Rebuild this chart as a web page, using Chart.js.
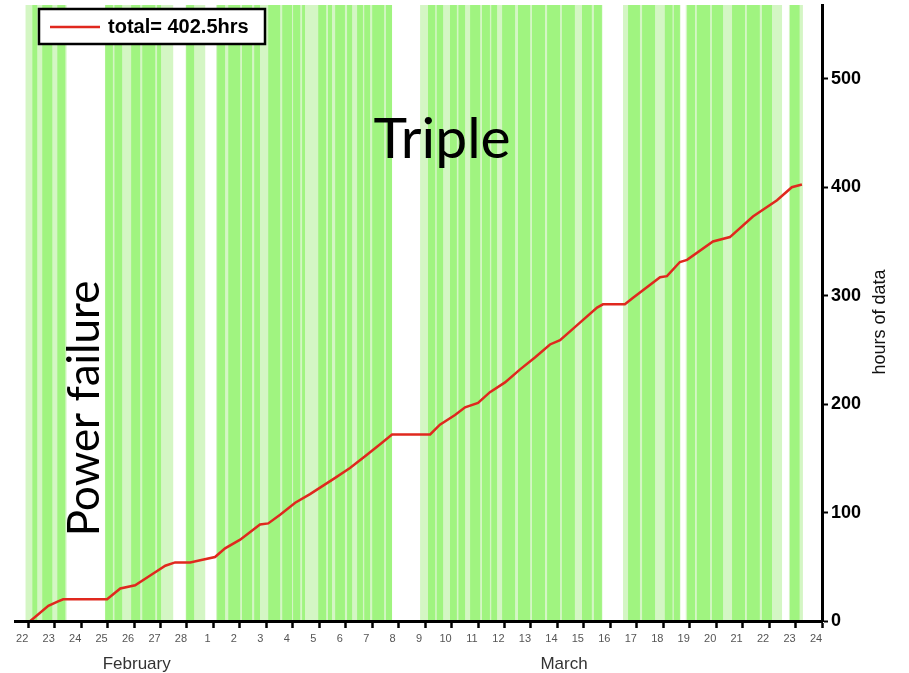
<!DOCTYPE html>
<html lang="en">
<head>
    <meta charset="UTF-8">
    <title>Hours of data</title>
    <script src="https://cdn.jsdelivr.net/npm/chart.js"></script>
    <style>
        body { margin: 0; background: #fff; }
        #wrap { width: 909px; height: 673px; }
    </style>
</head>
<body>
    <div id="wrap"><canvas id="hoursChart" width="909" height="673"></canvas></div>

    <script>
        // x values are days counted from the 22 February tick
        const dayLabels = ['22', '23', '24', '25', '26', '27', '28',
            '1', '2', '3', '4', '5', '6', '7', '8', '9', '10', '11', '12', '13', '14', '15',
            '16', '17', '18', '19', '20', '21', '22', '23', '24'];
        const monthLabels = ['February', 'March'];
        const monthCenters = [4.1, 20.25];
        const hourTicks = [0, 100, 200, 300, 400, 500];

        // cumulative hours of data
        const totalDays = [0.08, 0.76, 1.13, 1.32, 2.98, 3.48, 4.04, 4.61, 5.18, 5.55, 6.12, 6.50, 7.06,
            7.44, 8.01, 8.39, 8.76, 9.07, 9.52, 10.09, 10.65, 11.03, 11.60, 12.16, 12.73, 13.30, 13.75,
            15.19, 15.56, 16.13, 16.51, 17.00, 17.45, 18.02, 18.59, 19.15, 19.72, 20.10, 20.66, 21.50,
            21.72, 22.55, 22.86, 23.88, 24.14, 24.63, 24.90, 25.88, 26.52, 27.39, 28.30, 28.86, 29.24];
        const totalHours = [0, 14, 18, 20, 20, 30, 33, 42, 51, 54, 54, 56, 59,
            67, 75, 82, 89, 90, 98, 109, 117, 123, 132, 141, 152, 163, 172,
            172, 181, 190, 197, 201, 211, 220, 232, 243, 255, 259, 271, 289,
            292, 292, 298, 317, 318, 331, 333, 350, 354, 373, 388, 400, 402.5];

        // recording periods (start day, end day)
        const recordSpans = [[0.15, 0.34], [0.53, 0.91], [1.10, 1.40],
            [2.91, 3.20], [3.26, 3.55], [3.89, 4.23], [4.31, 4.80], [4.87, 5.02],
            [5.97, 6.27], [7.14, 7.44], [7.56, 8.01], [8.08, 8.46], [8.54, 8.76],
            [9.07, 9.52], [9.60, 9.97], [10.01, 10.28], [10.35, 10.46], [10.96, 11.26],
            [11.33, 11.48], [11.60, 11.97], [12.05, 12.24], [12.43, 12.65], [12.70, 12.92],
            [13.00, 13.45], [13.52, 13.75], [15.11, 15.38], [15.44, 15.68], [15.94, 16.20],
            [16.26, 16.51], [16.70, 17.08], [17.15, 17.45], [17.50, 17.72],
            [17.91, 18.40], [18.51, 18.97], [19.04, 19.53], [19.61, 20.10], [20.17, 20.66],
            [20.93, 21.30], [21.38, 21.68], [22.67, 23.12], [23.20, 23.69], [24.06, 24.35],
            [24.40, 24.63], [24.90, 25.20], [25.27, 25.77], [25.84, 26.26], [26.60, 27.09],
            [27.16, 27.65], [27.73, 28.11], [28.79, 29.16]];
        // short / partial periods (paler bands)
        const partialSpans = [[-0.11, 1.45], [2.90, 5.48], [5.95, 6.69], [7.10, 13.75],
            [14.81, 21.70], [22.48, 24.65], [24.85, 28.49], [28.75, 29.28]];

        const Y_MAX = 568;

        function spanPoints(spans) {
            const pts = [];
            spans.forEach(function(s) {
                pts.push({ x: s[0], y: Y_MAX + 50 });
                pts.push({ x: s[1], y: 0 });
            });
            return pts;
        }

        const annotations = {
            id: 'annotations',
            afterDatasetsDraw: function(chart) {
                const ctx = chart.ctx;
                const xs = chart.scales.x, ys = chart.scales.y;
                const area = chart.chartArea;
                ctx.save();

                // big labels
                ctx.fillStyle = '#000';
                ctx.textAlign = 'center';
                ctx.textBaseline = 'middle';
                ctx.font = '57px Lato';
                ctx.fillText('Triple', xs.getPixelForValue(15.64), ys.getPixelForValue(444));
                ctx.save();
                ctx.translate(xs.getPixelForValue(2.15), ys.getPixelForValue(196));
                ctx.rotate(-Math.PI / 2);
                ctx.font = '44px Lato';
                ctx.fillText('Power failure', 0, 0);
                ctx.restore();

                // legend box
                const lx = area.left + 24, ly = area.top + 4;
                ctx.fillStyle = '#fff';
                ctx.fillRect(lx, ly, 226, 35);
                ctx.lineWidth = 2.5;
                ctx.strokeStyle = '#000';
                ctx.strokeRect(lx, ly, 226, 35);
                ctx.strokeStyle = '#e0281e';
                ctx.lineWidth = 2.5;
                ctx.beginPath();
                ctx.moveTo(lx + 11, ly + 18);
                ctx.lineTo(lx + 61, ly + 18);
                ctx.stroke();
                ctx.fillStyle = '#000';
                ctx.textAlign = 'left';
                ctx.font = 'bold 20px "Liberation Sans", Arial';
                ctx.fillText('total= 402.5hrs', lx + 69, ly + 18);

                // month names under the day ticks
                ctx.textAlign = 'center';
                ctx.fillStyle = '#333';
                ctx.font = '17px "Liberation Sans", Arial';
                monthLabels.forEach(function(m, i) {
                    ctx.fillText(m, xs.getPixelForValue(monthCenters[i]), area.bottom + 43);
                });

                // right axis title, reading upward
                ctx.save();
                ctx.translate(880, (area.top + area.bottom) / 2 + 9);
                ctx.rotate(-Math.PI / 2);
                ctx.fillStyle = '#111';
                ctx.font = '18px "Liberation Sans", Arial';
                ctx.fillText('hours of data', 0, 0);
                ctx.restore();

                ctx.restore();
            }
        };

        new Chart(document.getElementById('hoursChart'), {
            type: 'line',
            data: {
                datasets: [{
                    label: 'total= 402.5hrs',
                    data: totalDays.map((d, i) => ({ x: d, y: totalHours[i] })),
                    borderColor: '#e0281e',
                    borderWidth: 2.5,
                    pointRadius: 0,
                    tension: 0,
                    fill: false
                }, {
                    label: 'recording',
                    data: spanPoints(recordSpans),
                    stepped: 'before',
                    borderWidth: 0,
                    borderColor: 'transparent',
                    backgroundColor: 'rgb(160, 244, 128)',
                    pointRadius: 0,
                    fill: 'origin'
                }, {
                    label: 'partial',
                    data: spanPoints(partialSpans),
                    stepped: 'before',
                    borderWidth: 0,
                    borderColor: 'transparent',
                    backgroundColor: 'rgb(212, 246, 196)',
                    pointRadius: 0,
                    fill: 'origin'
                }]
            },
            options: {
                responsive: false,
                animation: false,
                layout: { padding: { left: 15, top: 5, right: 0, bottom: 0 } },
                plugins: {
                    legend: { display: false },
                    tooltip: { enabled: false }
                },
                scales: {
                    x: {
                        type: 'linear',
                        position: 'bottom',
                        min: -0.5,
                        max: 30,
                        afterBuildTicks: function(axis) {
                            axis.ticks = dayLabels.map((l, i) => ({ value: i }));
                        },
                        afterFit: function(axis) {
                            axis.height = 52;
                            axis.paddingLeft = 0;
                            axis.paddingRight = 0;
                        },
                        border: { display: true, color: '#000', width: 3, z: 1 },
                        grid: {
                            drawOnChartArea: false,
                            drawTicks: true,
                            tickLength: 7,
                            tickWidth: 2.5,
                            color: '#000',
                            tickColor: '#000'
                        },
                        ticks: {
                            autoSkip: false,
                            maxRotation: 0,
                            padding: 4,
                            labelOffset: -6,
                            color: '#555',
                            font: { family: '"Liberation Sans", Arial', size: 11 },
                            callback: function(value) { return dayLabels[value]; }
                        }
                    },
                    y: {
                        type: 'linear',
                        position: 'right',
                        min: 0,
                        max: Y_MAX,
                        afterBuildTicks: function(axis) {
                            axis.ticks = hourTicks.map(v => ({ value: v }));
                        },
                        afterFit: function(axis) {
                            axis.width = 87;
                            axis.paddingTop = 0;
                            axis.paddingBottom = 0;
                        },
                        border: { display: true, color: '#000', width: 3, z: 1 },
                        grid: {
                            drawOnChartArea: false,
                            drawTicks: true,
                            tickLength: 6,
                            tickWidth: 2,
                            color: '#000',
                            tickColor: '#000'
                        },
                        ticks: {
                            padding: 3,
                            color: '#000',
                            font: { family: '"Liberation Sans", Arial', size: 18, weight: 'bold' }
                        }
                    }
                }
            },
            plugins: [annotations]
        });
    </script>
</body>
</html>
